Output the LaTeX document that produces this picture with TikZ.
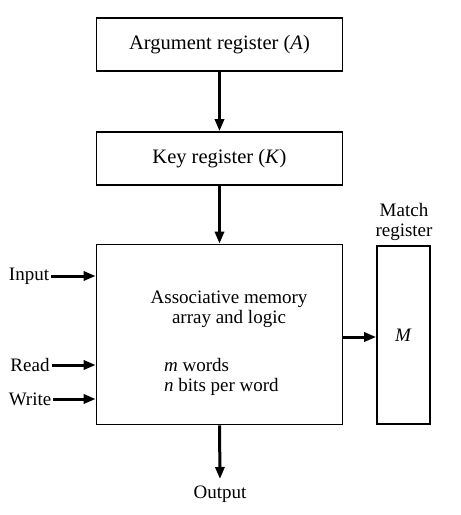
\documentclass[tikz,border=0pt]{standalone}
\usepackage{fontspec}
\setmainfont{Liberation Serif}
\usetikzlibrary{arrows.meta}
\begin{document}
\begin{tikzpicture}[x=1pt,y=-1pt,
  box/.style={draw,line width=1.6pt,minimum width=246pt,minimum height=53pt,inner sep=0pt,font=\fontsize{20.5}{22}\selectfont},
  lbl/.style={inner sep=0pt,font=\fontsize{19}{20}\selectfont},
  arr/.style={line width=3pt,-{Triangle[length=12pt,width=9pt]}}]
\useasboundingbox (0,0) rectangle (461,515);
\node[box] (arg) at (219.5,44.5) {Argument register (\textit{A})};
\node[box] (key) at (219.5,158.5) {Key register (\textit{K})};
\node[box,minimum height=180pt] (mem) at (219.5,334.5) {};
\node[draw,line width=1.6pt,minimum width=53pt,minimum height=178pt,inner sep=0pt] (mreg) at (403.5,335) {};
\node[lbl] (mlab) at (403.5,335) {\textit{M}};
\node[lbl,align=center] (mtitle) at (404,222) {Match\\register};
\node[lbl,align=center] (assoc) at (229,309) {Associative memory\\array and logic};
\node[lbl,align=left,anchor=west] (words) at (164,377) {\textit{m} words\\\textit{n} bits per word};
\node[lbl] (input) at (29,276) {Input};
\node[lbl] (read) at (30,365) {Read};
\node[lbl] (write) at (30,399) {Write};
\node[lbl] (output) at (220,494) {Output};
\coordinate (oend) at (220,479);
\draw[arr] (input.east) ++(2,0) -- (mem.west |- input.east);
\draw[arr] (read.east) ++(2,0) -- (mem.west |- read.east);
\draw[arr] (write.east) ++(2,0) -- (mem.west |- write.east);
\draw[arr] (arg.south) -- (key.north);
\draw[arr] (key.south) -- (mem.north);
\draw[arr] (mem.south) -- (oend);
\draw[arr] (mem.east |- 0,337) -- (mreg.west |- 0,337);
\end{tikzpicture}
\end{document}
